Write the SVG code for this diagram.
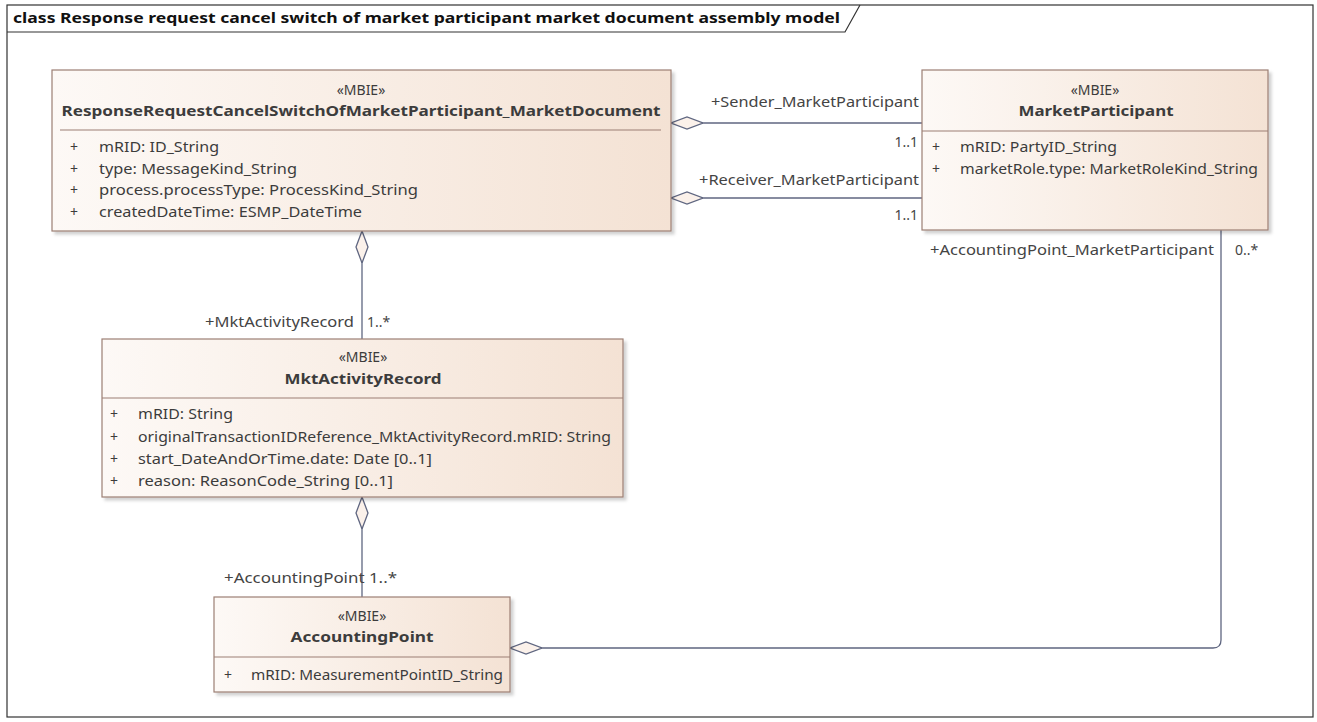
<svg xmlns="http://www.w3.org/2000/svg" width="1317" height="722" viewBox="0 0 1317 722">
<defs>
<linearGradient id="boxg" x1="0" y1="0" x2="1" y2="0">
<stop offset="0" stop-color="#fdf9f6"/>
<stop offset="1" stop-color="#f4e2d4"/>
</linearGradient>
<filter id="sh" x="-5%" y="-5%" width="115%" height="120%">
<feDropShadow dx="3" dy="3" stdDeviation="1.5" flood-color="#000" flood-opacity="0.18"/>
</filter>
<marker id="dia" viewBox="0 0 32 14" refX="0" refY="7" markerWidth="32" markerHeight="14" markerUnits="userSpaceOnUse" orient="auto">
<path d="M0,7 L16,1 L32,7 L16,13 Z" fill="#fbf1ea" stroke="#5f6680" stroke-width="1.3"/>
</marker>
</defs>
<style>
.box{fill:url(#boxg);stroke:#9c7f74;stroke-width:1.2;filter:url(#sh)}
.sep{stroke:#9c7f74;stroke-width:1.2}
.t{font-family:"Noto Sans","Open Sans",sans-serif;font-size:14px;fill:#3c3c3c}
.st{font-family:"Noto Sans","Open Sans",sans-serif;font-size:14px;fill:#3c3c3c;text-anchor:middle}
.nm{font-family:"Noto Sans","Open Sans",sans-serif;font-size:15px;font-weight:bold;fill:#3c3c3c;text-anchor:middle}
.lb{font-family:"Noto Sans","Open Sans",sans-serif;font-size:14px;fill:#444}
.ln{fill:none;stroke:#5f6680;stroke-width:1.3}
</style>
<rect x="0" y="0" width="1317" height="722" fill="#ffffff"/>
<g id="frame">
<rect x="7" y="5" width="1306" height="712" fill="none" stroke="#333" stroke-width="1.2"/>
<path d="M7,32 L845,32 L860,5" fill="none" stroke="#333" stroke-width="1.2"/>
<text x="13" y="23" font-family="'Noto Sans','Open Sans',sans-serif" font-size="15" font-weight="bold" fill="#111" textLength="827" lengthAdjust="spacingAndGlyphs">class Response request cancel switch of market participant market document assembly model</text>
</g>
<g id="connectors">
<path class="ln" d="M671,123 L922,123" marker-start="url(#dia)"/>
<path class="ln" d="M671,198 L922,198" marker-start="url(#dia)"/>
<path class="ln" d="M362,231 L362,339" marker-start="url(#dia)"/>
<path class="ln" d="M362,497 L362,597" marker-start="url(#dia)"/>
<path class="ln" d="M510,648 L1213,648 Q1221,648 1221,640 L1221,230" marker-start="url(#dia)"/>
<text class="lb" x="919" y="107" text-anchor="end" textLength="208" lengthAdjust="spacingAndGlyphs">+Sender_MarketParticipant</text>
<text class="lb" x="918" y="147" text-anchor="end">1..1</text>
<text class="lb" x="919" y="185" text-anchor="end" textLength="220" lengthAdjust="spacingAndGlyphs">+Receiver_MarketParticipant</text>
<text class="lb" x="918" y="220" text-anchor="end">1..1</text>
<text class="lb" x="354" y="327" text-anchor="end" textLength="149" lengthAdjust="spacingAndGlyphs">+MktActivityRecord</text>
<text class="lb" x="367" y="327">1..*</text>
<text class="lb" x="224" y="583" textLength="173" lengthAdjust="spacingAndGlyphs">+AccountingPoint 1..*</text>
<text class="lb" x="1214" y="255" text-anchor="end" textLength="284" lengthAdjust="spacingAndGlyphs">+AccountingPoint_MarketParticipant</text>
<text class="lb" x="1235" y="255">0..*</text>
</g>
<g id="ResponseRequestCancelSwitchOfMarketParticipant_MarketDocument">
<rect class="box" x="52" y="70" width="619" height="161"/>
<text class="st" x="361" y="95">«MBIE»</text>
<text class="nm" x="361" y="116" textLength="599" lengthAdjust="spacingAndGlyphs">ResponseRequestCancelSwitchOfMarketParticipant_MarketDocument</text>
<line class="sep" x1="60" y1="130" x2="661" y2="130"/>
<text class="t" x="70" y="152">+</text><text class="t" x="99" y="152" textLength="120" lengthAdjust="spacingAndGlyphs">mRID: ID_String</text>
<text class="t" x="70" y="174">+</text><text class="t" x="99" y="174" textLength="198" lengthAdjust="spacingAndGlyphs">type: MessageKind_String</text>
<text class="t" x="70" y="195">+</text><text class="t" x="99" y="195" textLength="319" lengthAdjust="spacingAndGlyphs">process.processType: ProcessKind_String</text>
<text class="t" x="70" y="217">+</text><text class="t" x="99" y="217" textLength="263" lengthAdjust="spacingAndGlyphs">createdDateTime: ESMP_DateTime</text>
</g>
<g id="MarketParticipant">
<rect class="box" x="922" y="70" width="346" height="160"/>
<text class="st" x="1095" y="95">«MBIE»</text>
<text class="nm" x="1096" y="116" textLength="155" lengthAdjust="spacingAndGlyphs">MarketParticipant</text>
<line class="sep" x1="922" y1="131" x2="1268" y2="131"/>
<text class="t" x="932" y="152">+</text><text class="t" x="960" y="152" textLength="157" lengthAdjust="spacingAndGlyphs">mRID: PartyID_String</text>
<text class="t" x="932" y="174">+</text><text class="t" x="960" y="174" textLength="298" lengthAdjust="spacingAndGlyphs">marketRole.type: MarketRoleKind_String</text>
</g>
<g id="MktActivityRecord">
<rect class="box" x="102" y="339" width="521" height="158"/>
<text class="st" x="363" y="362">«MBIE»</text>
<text class="nm" x="363" y="384" textLength="157" lengthAdjust="spacingAndGlyphs">MktActivityRecord</text>
<line class="sep" x1="102" y1="398" x2="623" y2="398"/>
<text class="t" x="110" y="419">+</text><text class="t" x="138" y="419" textLength="95" lengthAdjust="spacingAndGlyphs">mRID: String</text>
<text class="t" x="110" y="442">+</text><text class="t" x="138" y="442" textLength="473" lengthAdjust="spacingAndGlyphs">originalTransactionIDReference_MktActivityRecord.mRID: String</text>
<text class="t" x="110" y="464">+</text><text class="t" x="138" y="464" textLength="294" lengthAdjust="spacingAndGlyphs">start_DateAndOrTime.date: Date [0..1]</text>
<text class="t" x="110" y="486">+</text><text class="t" x="138" y="486" textLength="255" lengthAdjust="spacingAndGlyphs">reason: ReasonCode_String [0..1]</text>
</g>
<g id="AccountingPoint">
<rect class="box" x="214" y="597" width="296" height="95"/>
<text class="st" x="362" y="621">«MBIE»</text>
<text class="nm" x="362" y="642" textLength="143" lengthAdjust="spacingAndGlyphs">AccountingPoint</text>
<line class="sep" x1="214" y1="657" x2="510" y2="657"/>
<text class="t" x="224" y="680">+</text><text class="t" x="251" y="680" textLength="252" lengthAdjust="spacingAndGlyphs">mRID: MeasurementPointID_String</text>
</g>
</svg>
